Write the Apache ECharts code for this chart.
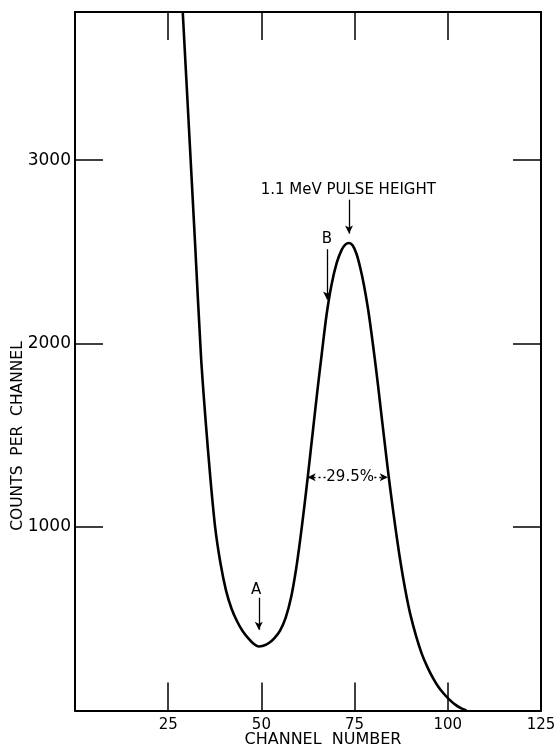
<!DOCTYPE html>
<html>
<head>
<meta charset="utf-8">
<script src="https://cdn.jsdelivr.net/npm/echarts@6/dist/echarts.min.js"></script>
<style>
html,body{margin:0;padding:0;background:#fff;}
#chart{width:559px;height:746px;}
</style>
</head>
<body>
<div id="chart"></div>
<script>
// ---- data ----
const channel = [28.9, 30.5, 32.2, 33.8, 35.0, 36.3, 37.6, 39.0, 40.5, 42.0, 43.5, 45.0, 46.5, 48.0, 49.2,
                 50.5, 52.0, 53.5, 55.0, 56.5, 58.0, 59.3, 60.4, 61.5, 62.5, 63.9, 65.0, 66.2, 67.5, 68.8, 70.2, 71.5, 72.5, 73.5,
                 74.5, 75.5, 76.5, 77.5, 78.6, 79.5, 80.4, 81.3, 82.2, 83.1, 84.0, 85.0, 86.0, 87.0, 88.0, 89.0, 90.0,
                 91.5, 93.0, 94.5, 96.0, 97.5, 99.0, 100.5, 102.0, 103.5, 105.0];
const counts  = [3808, 3200, 2550, 1930, 1590, 1270, 998, 805, 655, 555, 485, 432, 393, 362, 349,
                 353, 368, 395, 436, 505, 620, 770, 930, 1110, 1285, 1540, 1740, 1946, 2160, 2320, 2440, 2510, 2540, 2549,
                 2535, 2490, 2415, 2320, 2190, 2060, 1920, 1770, 1610, 1455, 1300, 1140, 990, 850, 725, 615, 520,
                 405, 310, 238, 178, 128, 90, 58, 32, 13, 0];
const xTickLabels = [25, 50, 75, 100, 125];
const yTickLabels = [1000, 2000, 3000];
const xTitle = 'CHANNEL  NUMBER';
const yTitle = 'COUNTS  PER  CHANNEL';
// annotations (data coordinates)
const peakLabel = {text: '1.1 MeV PULSE HEIGHT', x: 73.3, y: 2835};
const peakArrow = {x: 73.5, from: 2785, to: 2600};
const bLabel = {text: 'B', x: 67.6, y: 2570};
const bArrow = {x: 67.6, from: 2515, to: 2240};
const aLabel = {text: 'A', x: 48.6, y: 655};
const aArrow = {x: 49.3, from: 615, to: 440};
const fwhm = {text: '29.5%', x: 73.8, y: 1271, left: 62.4, right: 83.9, textLeft: 67.2, textRight: 80.3};

const FONT = 'DejaVu Sans';
const seriesData = channel.map((c, i) => [c, counts[i]]);

const chart = echarts.init(document.getElementById('chart'), null, {renderer: 'canvas'});

const axisLineStyle = {show: true, onZero: false, lineStyle: {color: '#000', width: 2}};
const tickStyle = {show: true, inside: true, length: 28, lineStyle: {color: '#000', width: 1.5}};

const option = {
  backgroundColor: '#fff',
  animation: false,
  grid: {left: 75, right: 18, top: 12, bottom: 35.5, containLabel: false},
  xAxis: [
    {
      type: 'value', position: 'bottom', min: 0, max: 125, interval: 25,
      axisLine: axisLineStyle, axisTick: tickStyle, splitLine: {show: false},
      axisLabel: {
        show: true, margin: 7, color: '#000', fontFamily: FONT, fontSize: 15,
        formatter: v => xTickLabels.includes(v) ? String(v) : ''
      }
    },
    {
      type: 'value', position: 'top', min: 0, max: 125, interval: 25,
      axisLine: axisLineStyle, axisTick: tickStyle, splitLine: {show: false},
      axisLabel: {show: false}
    }
  ],
  yAxis: [
    {
      type: 'value', position: 'left', min: 0, max: 3808, interval: 1000,
      axisLine: axisLineStyle, axisTick: tickStyle, splitLine: {show: false},
      axisLabel: {
        show: true, margin: 4, color: '#000', fontFamily: FONT, fontSize: 17,
        formatter: v => yTickLabels.includes(v) ? String(v) : ''
      }
    },
    {
      type: 'value', position: 'right', min: 0, max: 3808, interval: 1000,
      axisLine: axisLineStyle, axisTick: tickStyle, splitLine: {show: false},
      axisLabel: {show: false}
    }
  ],
  graphic: [
    {
      type: 'text', x: 323, y: 732,
      style: {text: xTitle, fill: '#000', font: '16px "DejaVu Sans"', textAlign: 'center', textVerticalAlign: 'top'}
    },
    {
      type: 'text', rotation: Math.PI / 2, x: 10, y: 436,
      style: {text: yTitle, fill: '#000', font: '15.5px "DejaVu Sans"', textAlign: 'center', textVerticalAlign: 'top'}
    }
  ],
  series: [
    {
      type: 'line',
      data: seriesData,
      smooth: 0.3,
      showSymbol: false,
      symbol: 'none',
      clip: true,
      lineStyle: {color: '#000', width: 2.6},
      markLine: {
        silent: true,
        symbol: ['none', 'arrow'],
        symbolSize: [6, 8],
        label: {show: false},
        lineStyle: {color: '#000', width: 1.3, type: 'solid'},
        data: [
          [{coord: [peakArrow.x, peakArrow.from]}, {coord: [peakArrow.x, peakArrow.to]}],
          [{coord: [bArrow.x, bArrow.from]}, {coord: [bArrow.x, bArrow.to]}],
          [{coord: [aArrow.x, aArrow.from]}, {coord: [aArrow.x, aArrow.to]}],
          [{coord: [fwhm.textLeft, fwhm.y], lineStyle: {type: [2, 3], width: 1.3}}, {coord: [fwhm.left, fwhm.y]}],
          [{coord: [fwhm.textRight, fwhm.y], lineStyle: {type: [2, 3], width: 1.3}}, {coord: [fwhm.right, fwhm.y]}]
        ]
      },
      markPoint: {
        silent: true,
        symbol: 'circle',
        symbolSize: 1,
        itemStyle: {color: 'rgba(0,0,0,0)'},
        label: {show: true, position: 'inside', color: '#000', fontFamily: FONT},
        data: [
          {coord: [peakLabel.x, peakLabel.y], value: peakLabel.text, label: {formatter: peakLabel.text, fontSize: 15}},
          {coord: [bLabel.x, bLabel.y], value: bLabel.text, label: {formatter: bLabel.text, fontSize: 15}},
          {coord: [aLabel.x, aLabel.y], value: aLabel.text, label: {formatter: aLabel.text, fontSize: 15}},
          {coord: [fwhm.x, fwhm.y], value: fwhm.text, label: {formatter: fwhm.text, fontSize: 15}}
        ]
      }
    }
  ]
};
chart.setOption(option);
</script>
</body>
</html>
